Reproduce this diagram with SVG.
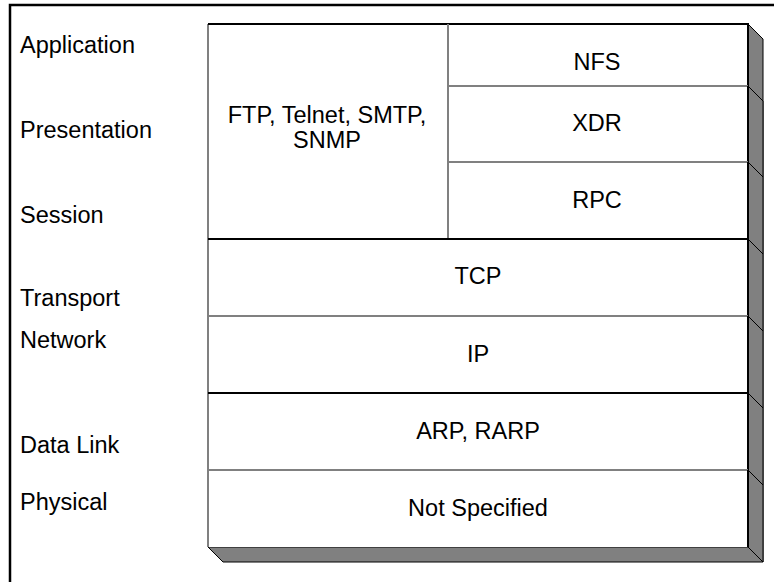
<svg xmlns="http://www.w3.org/2000/svg" width="774" height="582" viewBox="0 0 774 582">
<style>
.t{font-family:"Liberation Sans",Arial,sans-serif;font-size:23.5px;fill:#000}
.c{text-anchor:middle}
.sh{fill:#808080;stroke:#000;stroke-width:1}
.box{fill:#fff;stroke:none}
.lt{stroke:#000;stroke-width:2;fill:none}
.lg{stroke:#808080;stroke-width:2;fill:none}
</style>
<rect x="0" y="0" width="774" height="582" fill="#fff"/>
<path d="M10,582 V5 H774" fill="none" stroke="#000" stroke-width="2.5"/>
<g id="labels">
<text class="t" x="20" y="53">Application</text>
<text class="t" x="20" y="138">Presentation</text>
<text class="t" x="20" y="223">Session</text>
<text class="t" x="20" y="306">Transport</text>
<text class="t" x="20" y="348">Network</text>
<text class="t" x="20" y="453">Data Link</text>
<text class="t" x="20" y="510">Physical</text>
</g>
<g id="shadows">
<polygon class="sh" points="748,24 763,39 763,562 748,547"/>
<polygon class="sh" points="748,86 763,101 763,177 748,162"/>
<polygon class="sh" points="748,162 763,177 763,254 748,239"/>
<polygon class="sh" points="748,239 763,254 763,331 748,316"/>
<polygon class="sh" points="748,316 763,331 763,408 748,393"/>
<polygon class="sh" points="748,393 763,408 763,485 748,470"/>
<polygon class="sh" points="748,470 763,485 763,562 748,547"/>
<polygon class="sh" points="208,547 748,547 763,562 223,562"/>
</g>
<g id="ftp">
<rect class="box" x="208" y="24" width="239" height="215"/>
<path class="lg" d="M208,24 V239"/>
<path class="lt" d="M208,24 H447"/>
<text class="t c" x="327" y="123">FTP, Telnet, SMTP,</text>
<text class="t c" x="327" y="148">SNMP</text>
</g>
<g id="nfs">
<rect class="box" x="447" y="24" width="301" height="62"/>
<path class="lt" d="M447,24 H748 V86"/>
<path class="lg" d="M448,24 V86"/>
<text class="t c" x="597" y="70">NFS</text>
</g>
<g id="xdr">
<rect class="box" x="447" y="86" width="301" height="76"/>
<path class="lg" d="M448,86 V162 M447,86 H748"/>
<path class="lt" d="M748,86 V162"/>
<text class="t c" x="597" y="131">XDR</text>
</g>
<g id="rpc">
<rect class="box" x="447" y="162" width="301" height="77"/>
<path class="lg" d="M447,162 H748 M448,162 V239"/>
<path class="lt" d="M748,162 V239"/>
<text class="t c" x="597" y="208">RPC</text>
</g>
<g id="tcp">
<rect class="box" x="208" y="239" width="540" height="77"/>
<path class="lg" d="M208,239 V316"/>
<path class="lt" d="M208,239 H748 V316"/>
<text class="t c" x="478" y="284">TCP</text>
</g>
<g id="ip">
<rect class="box" x="208" y="316" width="540" height="77"/>
<path class="lg" d="M208,316 V393 M208,316 H748"/>
<path class="lt" d="M748,316 V393"/>
<text class="t c" x="478" y="362">IP</text>
</g>
<g id="arp">
<rect class="box" x="208" y="393" width="540" height="77"/>
<path class="lg" d="M208,393 V470"/>
<path class="lt" d="M208,393 H748 V470"/>
<text class="t c" x="478" y="439">ARP, RARP</text>
</g>
<g id="phys">
<rect class="box" x="208" y="470" width="540" height="77"/>
<path class="lg" d="M208,470 V547 M208,470 H748"/>
<path class="lt" d="M748,470 V547"/>
<text class="t c" x="478" y="516">Not Specified</text>
</g>
</svg>
